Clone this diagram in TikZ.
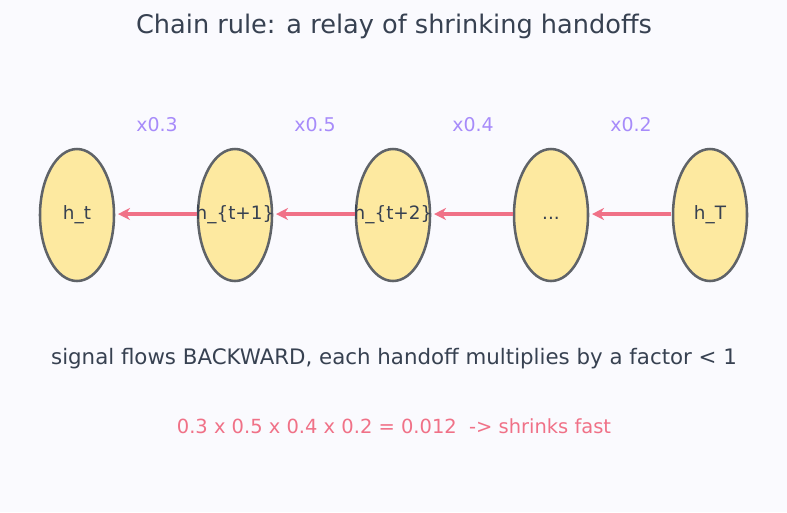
\documentclass[tikz,border=0pt]{standalone}
\usepackage{fontspec}
\setmainfont{DejaVu Sans}
\usetikzlibrary{arrows.meta,shapes.geometric}
\definecolor{bgc}{RGB}{250,250,254}
\definecolor{txt}{RGB}{55,65,81}
\definecolor{nodefill}{RGB}{253,233,160}
\definecolor{nodeline}{RGB}{95,99,104}
\definecolor{arrc}{RGB}{240,113,135}
\definecolor{lav}{RGB}{167,139,250}
\newcommand{\hlab}[1]{\makebox[0pt]{\vphantom{h\_\{\}}#1}}
\begin{document}
\begin{tikzpicture}[x=0.75pt,y=-0.75pt,
  hnode/.style={ellipse,draw=nodeline,fill=nodefill,line width=1.9pt,minimum width=55.5pt,minimum height=99pt,inner sep=0pt,font=\fontsize{13.8}{16}\selectfont,text=txt},
  handoff/.style={draw=arrc,line width=2.3pt,-{Stealth[length=9pt,width=9pt]}},
  factor/.style={font=\fontsize{14.2}{16}\selectfont,text=lav}]
\fill[bgc] (0,0) rectangle (787,512);
\useasboundingbox (0,0) rectangle (787,512);
\node[font=\fontsize{19.2}{22}\selectfont,text=txt] (title) at (394,26) {Chain rule: a relay of shrinking handoffs};
\node[hnode] (n1) at (77,215) {\hlab{h\_t}};
\node[hnode] (n2) at (235,215) {\hlab{h\_\{t+1\}}};
\node[hnode] (n3) at (393,215) {\hlab{h\_\{t+2\}}};
\node[hnode] (n4) at (551,215) {\hlab{...}};
\node[hnode] (n5) at (710,215) {\hlab{h\_T}};
\coordinate (a2) at (197,214); \coordinate (b1) at (118,214);
\coordinate (a3) at (355,214); \coordinate (b2) at (276,214);
\coordinate (a4) at (513,214); \coordinate (b3) at (434,214);
\coordinate (a5) at (671,214); \coordinate (b4) at (592,214);
\draw[handoff] (a2) -- (b1);
\draw[handoff] (a3) -- (b2);
\draw[handoff] (a4) -- (b3);
\draw[handoff] (a5) -- (b4);
\node[factor] (f1) at (157,125) {x0.3};
\node[factor] (f2) at (315,125) {x0.5};
\node[factor] (f3) at (473,125) {x0.4};
\node[factor] (f4) at (631,125) {x0.2};
\node[font=\fontsize{16}{18}\selectfont,text=txt] (sub) at (394,359) {signal flows BACKWARD, each handoff multiplies by a factor < 1};
\node[font=\fontsize{14.6}{18}\selectfont,text=arrc] (prod) at (394,426) {0.3 x 0.5 x 0.4 x 0.2 = 0.012\ \ -> shrinks fast};
\end{tikzpicture}
\end{document}
